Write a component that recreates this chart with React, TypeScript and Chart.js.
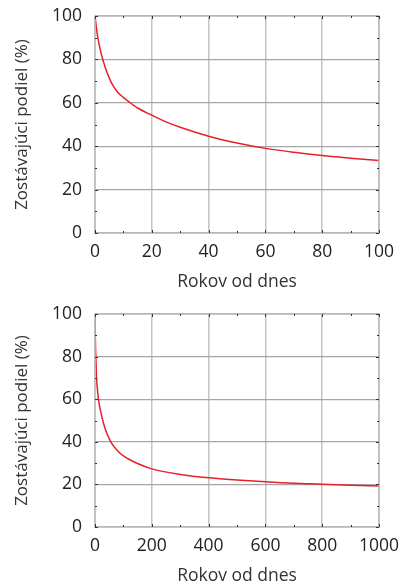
import React, { useEffect, useRef } from "react";
import { Chart, registerables } from "chart.js";

Chart.register(...registerables);

// Top panel: years 0..100
const yearsShort = [0, 0.5, 1, 2, 3, 4, 5, 6, 8, 10, 12, 15, 20, 25, 30, 40, 50, 60, 70, 80, 90, 100];
const remainingShort = [100, 94.5, 90, 83.7, 78.8, 74.8, 71.5, 68.7, 64.9, 62.5, 60.4, 57.6, 54.3, 51.2, 48.7, 44.6, 41.5, 39, 37.2, 35.7, 34.5, 33.4];

// Bottom panel: years 0..1000
const yearsLong = [0, 1, 2, 5, 10, 15, 20, 30, 40, 50, 60, 80, 100, 150, 200, 300, 400, 500, 600, 700, 800, 900, 1000];
const remainingLong = [100, 90, 83.7, 71.5, 62.5, 57.6, 54.3, 48.7, 44.6, 41.5, 39, 35.7, 33.4, 29.8, 27.3, 24.7, 23.1, 22.1, 21.2, 20.5, 20.1, 19.6, 19.2];

const yTicks = [0, 20, 40, 60, 80, 100];
const xTicksShort = [0, 20, 40, 60, 80, 100];
const xTicksLong = [0, 200, 400, 600, 800, 1000];

const yTitle = "Zostávajúci podiel (%)";
const xTitle = "Rokov od dnes";

const FONT = "'Open Sans', 'DejaVu Sans', sans-serif";

const framePlugin = {
  id: "frame",
  afterDatasetsDraw(chart: any) {
    const { ctx, chartArea: a, scales } = chart;
    ctx.save();
    ctx.strokeStyle = "#bdbdbd";
    ctx.lineWidth = 1.5;
    ctx.strokeRect(a.left, a.top, a.right - a.left, a.bottom - a.top);
    const xs = scales.x;
    const ys = scales.y;
    const xStep = (xs.max - xs.min) / 10;
    const yStep = 10;
    ctx.strokeStyle = "#333";
    ctx.lineWidth = 1;
    for (let i = 0; i <= 10; i++) {
      const v = xs.min + i * xStep;
      const px = Math.round(xs.getPixelForValue(v)) + 0.5;
      const len = i % 2 === 0 ? 3 : 2;
      ctx.beginPath();
      ctx.moveTo(px, a.bottom);
      ctx.lineTo(px, a.bottom - len);
      ctx.moveTo(px, a.top);
      ctx.lineTo(px, a.top + len);
      ctx.stroke();
    }
    for (let v = ys.min; v <= ys.max; v += yStep) {
      const py = Math.round(ys.getPixelForValue(v)) + 0.5;
      const len = v % 20 === 0 ? 3 : 2;
      ctx.beginPath();
      ctx.moveTo(a.left, py);
      ctx.lineTo(a.left + len, py);
      ctx.moveTo(a.right, py);
      ctx.lineTo(a.right - len, py);
      ctx.stroke();
    }
    ctx.restore();
  },
};

function makeConfig(xs: number[], ys: number[], xTicks: number[], xMax: number, topPad: number) {
  return {
    type: "line" as const,
    data: {
      datasets: [
        {
          data: xs.map((x, i) => ({ x, y: ys[i] })),
          borderColor: "#e8202a",
          borderWidth: 1.5,
          pointRadius: 0,
          cubicInterpolationMode: "monotone" as const,
          fill: false,
        },
      ],
    },
    options: {
      animation: false as const,
      responsive: false,
      maintainAspectRatio: false,
      events: [],
      layout: { padding: { top: topPad, right: 22, left: 0, bottom: 0 } },
      plugins: { legend: { display: false }, tooltip: { enabled: false } },
      scales: {
        x: {
          type: "linear" as const,
          min: 0,
          max: xMax,
          afterBuildTicks(scale: any) {
            scale.ticks = xTicks.map((v) => ({ value: v }));
          },
          afterFit(scale: any) {
            scale.height = 60;
            scale.paddingLeft = 0;
            scale.paddingRight = 0;
          },
          grid: { color: "#c4c4c4", lineWidth: 1.5, drawTicks: false },
          border: { display: false },
          ticks: {
            color: "#222",
            padding: 9,
            maxRotation: 0,
            autoSkip: false,
            font: { family: FONT, size: 17.5 },
            callback: (v: any) => String(v),
          },
          title: {
            display: true,
            text: xTitle,
            color: "#333",
            padding: { top: 0, bottom: 0 },
            font: { family: FONT, size: 17.5 },
          },
        },
        y: {
          type: "linear" as const,
          min: 0,
          max: 100,
          afterBuildTicks(scale: any) {
            scale.ticks = yTicks.map((v) => ({ value: v }));
          },
          afterFit(scale: any) {
            scale.width = 95;
            scale.paddingTop = 0;
            scale.paddingBottom = 0;
          },
          grid: { color: "#a6a6a6", lineWidth: 1.2, drawTicks: false },
          border: { display: false },
          ticks: {
            color: "#222",
            padding: 13,
            autoSkip: false,
            font: { family: FONT, size: 17.5 },
            callback: (v: any) => String(v),
          },
          title: {
            display: true,
            text: yTitle,
            color: "#333",
            padding: { top: 12, bottom: 0 },
            font: { family: FONT, size: 17 },
          },
        },
      },
    },
    plugins: [framePlugin],
  };
}

function Panel({ xs, ys, xTicks, xMax, height, topPad }: any) {
  const ref = useRef<HTMLCanvasElement>(null);
  useEffect(() => {
    if (!ref.current) return;
    const chart = new Chart(ref.current, makeConfig(xs, ys, xTicks, xMax, topPad) as any);
    return () => chart.destroy();
  }, []);
  return <canvas ref={ref} width={401} height={height} style={{ display: "block", width: 401, height }} />;
}

export default function App() {
  return (
    <div style={{ position: "absolute", left: 0, top: 0, width: 401, height: 587, overflow: "hidden", background: "#fff" }}>
      <Panel xs={yearsShort} ys={remainingShort} xTicks={xTicksShort} xMax={100} height={293} topPad={16} />
      <Panel xs={yearsLong} ys={remainingLong} xTicks={xTicksLong} xMax={1000} height={294} topPad={21} />
    </div>
  );
}
